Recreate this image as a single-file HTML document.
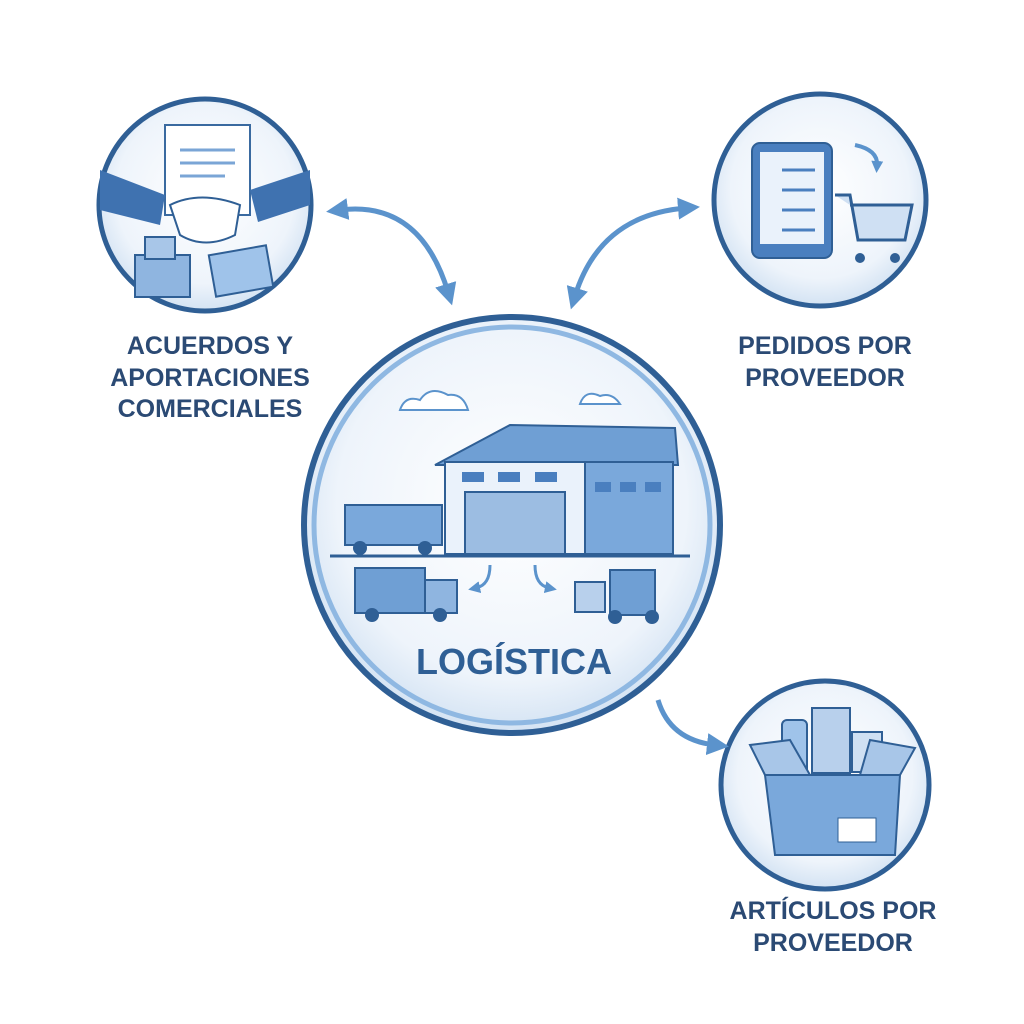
<!DOCTYPE html>
<html><head><meta charset="utf-8"><style>
html,body{margin:0;padding:0;background:#fff;}
svg{display:block}
text{font-family:"Liberation Sans",sans-serif;font-weight:bold;fill:#2b4a74;text-anchor:middle}
</style></head><body>
<svg width="1024" height="1024" viewBox="0 0 1024 1024">
<defs>
<radialGradient id="g1" cx="50%" cy="45%" r="60%"><stop offset="0" stop-color="#ffffff"/><stop offset="0.7" stop-color="#eef4fb"/><stop offset="1" stop-color="#c9dcf0"/></radialGradient>
<marker id="ah" markerWidth="22" markerHeight="22" refX="8" refY="11" orient="auto-start-reverse" markerUnits="userSpaceOnUse"><path d="M0,0 L22,11 L0,22 z" fill="#5b93cc"/></marker>
<marker id="as" markerWidth="12" markerHeight="12" refX="4" refY="6" orient="auto-start-reverse" markerUnits="userSpaceOnUse"><path d="M0,0 L12,6 L0,12 z" fill="#5b93cc"/></marker>
</defs>
<rect width="1024" height="1024" fill="#fff"/>

<!-- circle 1 -->
<circle cx="205" cy="205" r="106" fill="url(#g1)" stroke="#2f5f95" stroke-width="5"/>
<rect x="165" y="125" width="85" height="90" fill="#fff" stroke="#3a6aa0" stroke-width="2"/>
<g stroke="#7aa5d6" stroke-width="3"><line x1="180" y1="150" x2="235" y2="150"/><line x1="180" y1="163" x2="235" y2="163"/><line x1="180" y1="176" x2="225" y2="176"/></g>
<path d="M100,170 L165,195 L160,225 L100,210 Z" fill="#3f72b0"/>
<path d="M310,170 L250,190 L258,222 L310,205 Z" fill="#3f72b0"/>
<path d="M170,205 Q200,190 240,205 L235,235 Q205,250 180,235 Z" fill="#fff" stroke="#2f5f95" stroke-width="2"/>
<rect x="135" y="255" width="55" height="42" fill="#8fb5e0" stroke="#2f5f95" stroke-width="2"/>
<rect x="145" y="237" width="30" height="22" fill="#a8c6e8" stroke="#2f5f95" stroke-width="2"/>
<rect x="212" y="250" width="58" height="42" fill="#9fc3ea" stroke="#2f5f95" stroke-width="2" transform="rotate(-10 241 271)"/>

<!-- circle 2 -->
<circle cx="820" cy="200" r="106" fill="url(#g1)" stroke="#2f5f95" stroke-width="5"/>
<rect x="752" y="143" width="80" height="115" rx="8" fill="#4a7fbf" stroke="#2f5f95" stroke-width="2"/>
<rect x="760" y="152" width="64" height="92" fill="#eaf2fb"/>
<g stroke="#4a7fbf" stroke-width="3"><line x1="782" y1="170" x2="815" y2="170"/><line x1="782" y1="190" x2="815" y2="190"/><line x1="782" y1="210" x2="815" y2="210"/><line x1="782" y1="230" x2="815" y2="230"/></g>
<path d="M835,195 L850,195 L858,240 L905,240 L912,205 L850,205" fill="#cfe0f3" stroke="#2f5f95" stroke-width="3"/>
<circle cx="860" cy="258" r="5" fill="#2f5f95"/><circle cx="895" cy="258" r="5" fill="#2f5f95"/>
<path d="M855,145 Q878,150 877,165" fill="none" stroke="#5b93cc" stroke-width="4" marker-end="url(#as)"/>

<!-- central circle -->
<circle cx="512" cy="525" r="208" fill="url(#g1)" stroke="#2f5f95" stroke-width="6"/>
<circle cx="512" cy="525" r="198" fill="none" stroke="#8fb8e2" stroke-width="5"/>
<path d="M400,410 q5,-15 20,-10 q10,-15 28,-5 q15,-2 20,15 z" fill="#fff" stroke="#5b93cc" stroke-width="2"/>
<path d="M580,404 q5,-15 20,-8 q12,-4 20,8 z" fill="#fff" stroke="#5b93cc" stroke-width="2"/>
<path d="M435,465 L510,425 L675,428 L678,465 Z" fill="#6f9fd4" stroke="#2f5f95" stroke-width="2"/>
<rect x="445" y="462" width="140" height="92" fill="#eaf2fb" stroke="#2f5f95" stroke-width="2"/>
<rect x="585" y="462" width="88" height="92" fill="#7aa8db" stroke="#2f5f95" stroke-width="2"/>
<rect x="465" y="492" width="100" height="62" fill="#9cbde2" stroke="#2f5f95" stroke-width="2"/>
<g fill="#4a7fbf"><rect x="462" y="472" width="22" height="10"/><rect x="498" y="472" width="22" height="10"/><rect x="535" y="472" width="22" height="10"/><rect x="595" y="482" width="16" height="10"/><rect x="620" y="482" width="16" height="10"/><rect x="645" y="482" width="16" height="10"/></g>
<rect x="345" y="505" width="97" height="40" fill="#7aa8db" stroke="#2f5f95" stroke-width="2"/>
<circle cx="360" cy="548" r="7" fill="#2f5f95"/><circle cx="425" cy="548" r="7" fill="#2f5f95"/>
<line x1="330" y1="556" x2="690" y2="556" stroke="#2f5f95" stroke-width="3"/>
<rect x="355" y="568" width="70" height="45" fill="#6f9fd4" stroke="#2f5f95" stroke-width="2"/>
<rect x="425" y="580" width="32" height="33" fill="#8fb5e0" stroke="#2f5f95" stroke-width="2"/>
<circle cx="372" cy="615" r="7" fill="#2f5f95"/><circle cx="440" cy="615" r="7" fill="#2f5f95"/>
<rect x="575" y="582" width="30" height="30" fill="#b8d0ec" stroke="#2f5f95" stroke-width="2"/>
<rect x="610" y="570" width="45" height="45" fill="#6f9fd4" stroke="#2f5f95" stroke-width="2"/>
<circle cx="615" cy="617" r="7" fill="#2f5f95"/><circle cx="652" cy="617" r="7" fill="#2f5f95"/>
<path d="M490,565 q0,20 -14,23" fill="none" stroke="#5b93cc" stroke-width="3" marker-end="url(#as)"/>
<path d="M535,565 q0,20 14,23" fill="none" stroke="#5b93cc" stroke-width="3" marker-end="url(#as)"/>
<text x="514" y="674" font-size="36" style="fill:#2f5f95">LOGÍSTICA</text>

<!-- circle 4 -->
<circle cx="825" cy="785" r="104" fill="url(#g1)" stroke="#2f5f95" stroke-width="5"/>
<rect x="782" y="720" width="25" height="60" rx="5" fill="#9fc3ea" stroke="#2f5f95" stroke-width="2"/>
<rect x="812" y="708" width="38" height="65" fill="#b8d0ec" stroke="#2f5f95" stroke-width="2"/>
<rect x="852" y="732" width="30" height="40" fill="#cfe0f3" stroke="#2f5f95" stroke-width="2"/>
<path d="M765,775 L900,775 L895,855 L775,855 Z" fill="#7aa8db" stroke="#2f5f95" stroke-width="2"/>
<path d="M765,775 L750,745 L790,740 L810,775 Z M900,775 L915,748 L870,740 L860,775 Z" fill="#a8c6e8" stroke="#2f5f95" stroke-width="2"/>
<rect x="838" y="818" width="38" height="24" fill="#fff" stroke="#2f5f95" stroke-width="1"/>

<!-- arrows -->
<g fill="none" stroke="#5b93cc" stroke-width="5">
<path d="M340,210 Q420,200 448,292" marker-start="url(#ah)" marker-end="url(#ah)"/>
<path d="M686,208 Q600,215 575,296" marker-start="url(#ah)" marker-end="url(#ah)"/>
<path d="M658,700 Q670,740 715,745" marker-end="url(#ah)"/>
</g>

<!-- labels -->
<g font-size="25">
<text x="210" y="354">ACUERDOS Y</text>
<text x="210" y="386">APORTACIONES</text>
<text x="210" y="417">COMERCIALES</text>
<text x="825" y="354">PEDIDOS POR</text>
<text x="825" y="386">PROVEEDOR</text>
<text x="833" y="919">ARTÍCULOS POR</text>
<text x="833" y="951">PROVEEDOR</text>
</g>
</svg>
</body></html>
